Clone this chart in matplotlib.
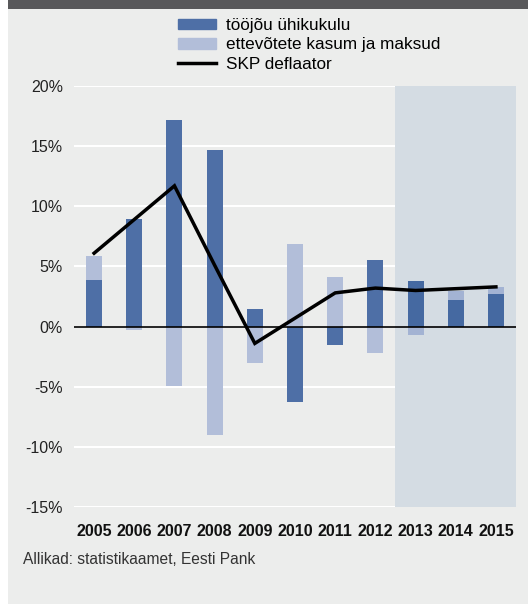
import matplotlib.pyplot as plt
import matplotlib.patches as mpatches
from matplotlib.lines import Line2D
import numpy as np

plt.rcParams['font.family'] = ['Liberation Sans', 'DejaVu Sans']

# andmed (%)
years = ['2005', '2006', '2007', '2008', '2009', '2010', '2011', '2012', '2013', '2014', '2015']
labour = [3.9, 8.95, 17.2, 14.7, 1.45, -6.3, -1.5, 5.5, 3.75, 2.2, 2.7]
profit = [2.0, -0.3, -4.9, -9.0, -3.0, 6.9, 4.1, -2.2, -0.7, 0.75, 0.55]
deflator = [6.1, 8.9, 11.7, 5.1, -1.4, 0.7, 2.8, 3.2, 3.0, 3.15, 3.3]
yticks = [-15, -10, -5, 0, 5, 10, 15, 20]
forecast_from = '2013'

bg = '#ecedec'
dark = '#4e6fa6'
dark_fc = '#4569a1'
light = '#b2bed9'
light_fc = '#a3b3d3'

fig = plt.figure(figsize=(5.28, 6.04), dpi=100)
fig.patch.set_facecolor('white')
# grey panel and dark top band
fig.patches.append(mpatches.Rectangle((8/528, 0), 1, 1 - 9/604, transform=fig.transFigure,
                                      facecolor=bg, edgecolor='none', zorder=-10))
fig.patches.append(mpatches.Rectangle((8/528, 1 - 9/604), 1, 9/604, transform=fig.transFigure,
                                      facecolor='#58585a', edgecolor='none', zorder=-10))

ax = fig.add_axes([74/528, 1 - 507/604, 442/528, 421/604])
ax.set_facecolor(bg)

x = np.arange(len(years))
lab = np.array(labour)
pro = np.array(profit)
fc = np.array([y >= forecast_from for y in years])

# light stacked on dark when signs agree
bottom = np.where(np.sign(lab) == np.sign(pro), lab, 0)

ax.bar(x, lab, width=0.4, color=np.where(fc, dark_fc, dark), zorder=3)
ax.bar(x, pro, width=0.4, bottom=bottom, color=np.where(fc, light_fc, light), zorder=3)
ax.plot(x, deflator, color='black', lw=2.5, zorder=5, solid_joinstyle='miter')

start = years.index(forecast_from)
ax.axvspan(start - 0.5, len(years) - 0.5, color='#d4dce3', zorder=1, lw=0)
ax.axhline(0, color='black', lw=1.2, zorder=4)

ax.set_xlim(-0.5, len(years) - 0.5)
ax.set_ylim(-15, 20)
ax.set_yticks(yticks)
ax.set_yticklabels([f'{t}%' for t in yticks], fontsize=11.5, color='#222222')
ax.set_xticks(x)
ax.set_xticklabels(years, fontsize=11.5, fontweight='bold', color='#111111')
ax.tick_params(length=0)
ax.tick_params(axis='y', pad=8)
ax.tick_params(axis='x', pad=12)
ax.grid(axis='y', color='white', lw=1.5, zorder=2)
ax.set_axisbelow(True)
for s in ax.spines.values():
    s.set_visible(False)

handles = [mpatches.Patch(color=dark, label='tööjõu ühikukulu'),
           mpatches.Patch(color=light, label='ettevõtete kasum ja maksud'),
           Line2D([], [], color='black', lw=2.5, label='SKP deflaator')]
fig.legend(handles=handles, loc='upper left', bbox_to_anchor=(178/528, 1 - 18/604),
           frameon=False, fontsize=12.3, borderpad=0, borderaxespad=0,
           handlelength=2.2, handleheight=0.6, handletextpad=0.6, labelspacing=0.25)

fig.text(23/528, 1 - 559/604, 'Allikad: statistikaamet, Eesti Pank', fontsize=11.2,
         color='#333333', va='center', ha='left')

fig.savefig('out.png', dpi=100, facecolor=fig.get_facecolor())
